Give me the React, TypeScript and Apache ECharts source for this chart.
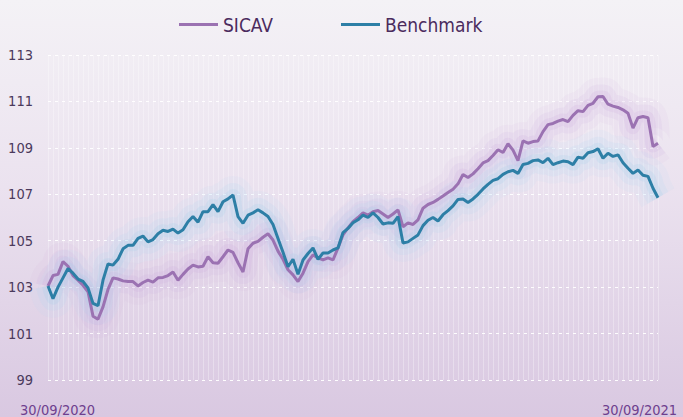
import React, { useEffect, useRef } from "react";
import * as echarts from "echarts";

const tickLabels = ["30/09/2020", "30/09/2021"];
const yTicks = [99, 101, 103, 105, 107, 109, 111, 113];

const sicav = [
  103.05, 103.5, 103.55, 104.1, 103.9, 103.5, 103.3, 103.08, 102.8, 101.75,
  101.62, 102.15, 102.9, 103.4, 103.35, 103.27, 103.24, 103.24, 103.05, 103.2,
  103.3, 103.22, 103.4, 103.42, 103.5, 103.65, 103.3, 103.55, 103.78, 103.95,
  103.87, 103.9, 104.31, 104.05, 104.03, 104.31, 104.6, 104.5, 104.05, 103.65,
  104.65, 104.89, 104.97, 105.15, 105.3, 105.03, 104.55, 104.2, 103.75, 103.53,
  103.24, 103.6, 104.1, 104.39, 104.26, 104.17, 104.26, 104.17, 104.69, 105.25,
  105.55, 105.82, 106.0, 106.2, 106.1, 106.25, 106.3, 106.15, 106.0, 106.15,
  106.33, 105.6, 105.77, 105.7, 105.9, 106.4, 106.56, 106.65, 106.78, 106.93,
  107.08, 107.22, 107.45, 107.85, 107.72, 107.88, 108.1, 108.35, 108.45, 108.67,
  108.92, 108.8, 109.18, 108.9, 108.45, 109.3, 109.2, 109.27, 109.3, 109.7,
  110.0, 110.05, 110.15, 110.22, 110.13, 110.4, 110.6, 110.56, 110.83, 110.92,
  111.2, 111.21, 110.88, 110.8, 110.74, 110.64, 110.49, 109.85, 110.3, 110.35,
  110.3, 109.06, 109.2,
];

const benchmark = [
  103.05, 102.5, 103.0, 103.4, 103.8, 103.6, 103.35, 103.25, 102.97, 102.3,
  102.2, 103.3, 104.0, 103.95, 104.2, 104.65, 104.8, 104.8, 105.1, 105.2,
  104.95, 105.05, 105.3, 105.45, 105.4, 105.5, 105.33, 105.47, 105.82, 106.04,
  105.8, 106.25, 106.25, 106.55, 106.25, 106.68, 106.8, 106.97, 106.04, 105.75,
  106.1, 106.2, 106.33, 106.2, 106.04, 105.7, 105.1, 104.5, 103.88, 104.2,
  103.55, 104.17, 104.45, 104.69, 104.2, 104.47, 104.47, 104.6, 104.69, 105.35,
  105.53, 105.77, 105.9, 106.1, 106.0, 106.2, 106.0, 105.72, 105.77, 105.75,
  106.04, 104.9, 104.95, 105.1, 105.25, 105.65, 105.88, 106.0, 105.85, 106.12,
  106.3, 106.5, 106.78, 106.8, 106.65, 106.8, 107.0, 107.23, 107.43, 107.6,
  107.67, 107.86, 107.97, 108.03, 107.9, 108.28, 108.33, 108.45, 108.48, 108.36,
  108.55, 108.28, 108.36, 108.43, 108.4, 108.28, 108.6, 108.55, 108.79, 108.84,
  108.96, 108.55, 108.77, 108.63, 108.7, 108.36, 108.12, 107.9, 108.05, 107.82,
  107.77, 107.26, 106.85,
];

const N = sicav.length;
const categories: string[] = [];
{
  const start = Date.UTC(2020, 8, 30);
  const end = Date.UTC(2021, 8, 30);
  for (let i = 0; i < N; i++) {
    const d = new Date(start + ((end - start) * i) / (N - 1));
    const dd = String(d.getUTCDate()).padStart(2, "0");
    const mm = String(d.getUTCMonth() + 1).padStart(2, "0");
    categories.push(`${dd}/${mm}/${d.getUTCFullYear()}`);
  }
}

const FONT = "'DejaVu Sans Condensed', 'Roboto', sans-serif";
const PURPLE = "#9b72b2";
const BLUE = "#2d7fa6";

function glow(name: string, data: number[], color: string, width: number, opacity: number) {
  return {
    name,
    type: "line",
    data,
    showSymbol: false,
    symbol: "none",
    smooth: 0.5,
    silent: true,
    lineStyle: { color, width, opacity, cap: "butt", join: "round" },
    z: 1,
  };
}

export default function App() {
  const ref = useRef<HTMLDivElement>(null);
  useEffect(() => {
    if (!ref.current) return;
    const chart = echarts.init(ref.current, undefined, { renderer: "svg" });
    chart.setOption({
      animation: false,
      backgroundColor: "transparent",
      legend: {
        top: 10,
        left: 174,
        itemWidth: 39,
        itemHeight: 3,
        itemGap: 68,
        icon: "rect",
        textStyle: { color: "#4b2b5e", fontSize: 19, fontFamily: FONT },
        data: [
          { name: "SICAV", itemStyle: { color: PURPLE } },
          { name: "Benchmark", itemStyle: { color: BLUE } },
        ],
      },
      grid: { left: 48, right: 25, top: 55, bottom: 37 },
      xAxis: {
        type: "category",
        data: categories,
        boundaryGap: false,
        axisLine: { show: false },
        axisTick: { show: false },
        splitLine: {
          show: true,
          interval: 0,
          lineStyle: { color: "rgba(255,255,255,0.3)", width: 1 },
        },
        axisLabel: {
          interval: (i: number) => i === 0 || i === N - 1,
          showMaxLabel: true,
          showMinLabel: true,
          margin: 22,
          formatter: (_v: string, i: number) =>
            i === 0 ? `{a|${tickLabels[0]}}` : `{b|${tickLabels[1]}}`,
          rich: {
            a: { color: "#6e3f8e", fontSize: 14.5, fontFamily: FONT, padding: [0, 0, 0, 19] },
            b: { color: "#6e3f8e", fontSize: 14.5, fontFamily: FONT, padding: [0, 37, 0, 0] },
          },
        },
      },
      yAxis: {
        type: "value",
        min: yTicks[0],
        max: yTicks[yTicks.length - 1],
        interval: 2,
        axisLine: { show: false },
        axisTick: { show: false },
        axisLabel: {
          color: "#4b3a5c",
          fontSize: 14.5,
          fontFamily: FONT,
          margin: 15,
          formatter: (v: number) => (yTicks.includes(v) ? String(v) : ""),
        },
        splitLine: {
          show: true,
          lineStyle: { color: "rgba(255,255,255,0.95)", type: [3, 4], width: 1 },
        },
      },
      series: [
        glow("SICAV glow 1", sicav, "#c9a6dc", 38, 0.08),
        glow("SICAV glow 2", sicav, "#c9a6dc", 24, 0.12),
        glow("SICAV glow 3", sicav, "#c4a0d8", 12, 0.16),
        glow("Benchmark glow 1", benchmark, "#b2daf2", 38, 0.1),
        glow("Benchmark glow 2", benchmark, "#a9d4ef", 24, 0.14),
        glow("Benchmark glow 3", benchmark, "#9ccbe9", 12, 0.18),
        {
          name: "SICAV",
          type: "line",
          data: sicav,
          showSymbol: false,
          symbol: "none",
          lineStyle: { color: PURPLE, width: 3 },
          itemStyle: { color: PURPLE },
          z: 3,
        },
        {
          name: "Benchmark",
          type: "line",
          data: benchmark,
          showSymbol: false,
          symbol: "none",
          lineStyle: { color: BLUE, width: 3 },
          itemStyle: { color: BLUE },
          z: 4,
        },
      ],
    });
    return () => chart.dispose();
  }, []);
  return (
    <div
      style={{
        position: "fixed",
        left: 0,
        top: 0,
        width: 683,
        height: 417,
        background: "linear-gradient(180deg, #f4f2f6 0%, #ebe2ef 45%, #d9c8e1 100%)",
      }}
    >
      <div ref={ref} style={{ width: 683, height: 417 }} />
    </div>
  );
}
